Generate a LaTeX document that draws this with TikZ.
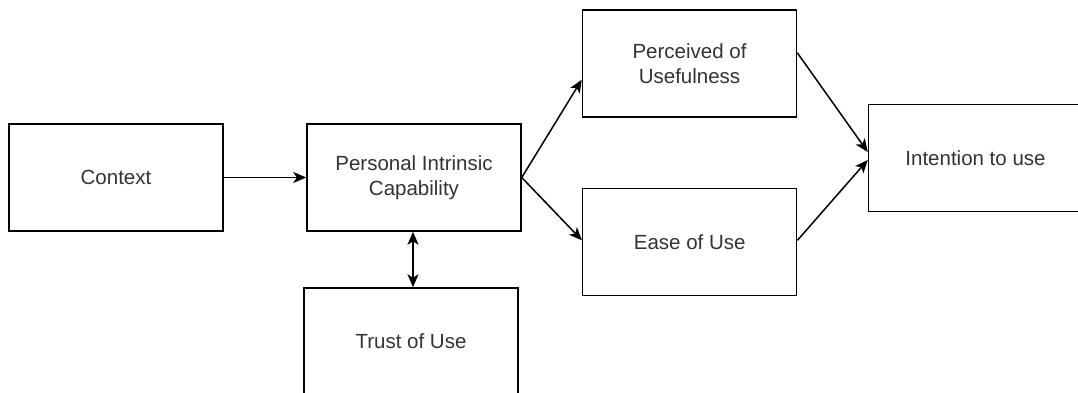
\documentclass[tikz,border=0pt]{standalone}
\usepackage{fontspec}
\setmainfont{Liberation Sans}
\usetikzlibrary{arrows.meta,calc}
\definecolor{txt}{HTML}{333333}
\begin{document}
\begin{tikzpicture}[x=1pt,y=-1pt,
  box/.style={draw=black,line width=1.5pt,minimum width=214pt,minimum height=107pt,
    inner sep=0pt,align=center,text=txt,font=\fontsize{20.5}{25.5}\selectfont},
  tip/.style={Stealth[length=13pt,width=11pt,inset=3.5pt]},
  conn/.style={line width=1.5pt,-{Stealth[length=13pt,width=11pt,inset=3.5pt]}},
  dconn/.style={line width=1.5pt,{Stealth[length=13pt,width=11pt,inset=3.5pt]}-{Stealth[length=13pt,width=11pt,inset=3.5pt]}}]
\useasboundingbox (0,0) rectangle (1078,392);
\clip (0,0) rectangle (1078,392);
\fill[white] (0,0) rectangle (1078,392);
\node[box] (ctx) at (116,177.5) {Context};
\node[box] (pic) at (414,177.5) {Personal Intrinsic\\Capability};
\node[box] (pu) at (689.5,63.7) {Perceived of\\Usefulness};
\node[box] (eou) at (689.7,241.8) {Ease of Use};
\node[box] (itu) at (975.5,158) {Intention to use};
\node[box] (tou) at (411,341.5) {Trust of Use};
\coordinate (ptop) at ($(pic.south)+(-1,0)$);
\draw[conn] (ctx.east) -- (pic.west);
\draw[conn] (pic.east) -- ($(pu.west)+(0,16)$);
\draw[conn] (pic.east) -- ($(eou.west)+(0,-1.5)$);
\draw[conn] ($(pu.east)+(0,-11)$) -- ($(itu.west)+(0,-6)$);
\draw[conn] ($(eou.east)+(0,-1.5)$) -- ($(itu.west)+(0,2)$);
\draw[dconn] (ptop) -- (ptop |- tou.north);
\end{tikzpicture}
\end{document}
